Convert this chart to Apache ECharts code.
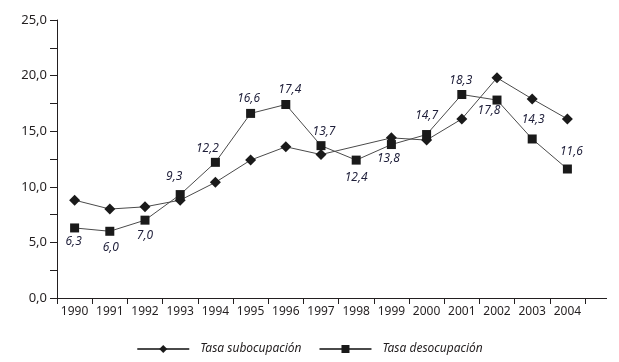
<!DOCTYPE html>
<html>
<head>
<meta charset="utf-8">
<script src="https://cdn.jsdelivr.net/npm/echarts@6/dist/echarts.min.js"></script>
<style>html,body{margin:0;padding:0;background:#fff;}#c{width:619px;height:362px;}</style>
</head>
<body>
<div id="c"></div>
<script>
const years = ['1990','1991','1992','1993','1994','1995','1996','1997','1998','1999','2000','2001','2002','2003','2004'];
const subocupacion = [8.8, 8.0, 8.2, 8.8, 10.4, 12.4, 13.6, 12.9, null, 14.4, 14.2, 16.1, 19.8, 17.9, 16.1];
const desocupacion = [6.3, 6.0, 7.0, 9.3, 12.2, 16.6, 17.4, 13.7, 12.4, 13.8, 14.7, 18.3, 17.8, 14.3, 11.6];
const yTicks = [0, 5, 10, 15, 20, 25];
const labelOffsets = [[-1,14],[1,16],[0,15],[-6,-18],[-8,-14],[-2,-15],[4,-15],[3,-14],[0,17],[-3,14],[0,-19],[-1,-14],[-8,11],[1,-19],[4,-17]];

const fmt = v => v.toFixed(1).replace('.', ',');
const font = '"Noto Sans", "Open Sans", sans-serif';
const textColor = '#231f20';

const chart = echarts.init(document.getElementById('c'), null, {renderer: 'canvas'});
chart.setOption({
  animation: false,
  grid: {left: 57, right: 34, top: 20, bottom: 64, containLabel: false},
  legend: {
    bottom: 2, left: 'center', itemWidth: 52, itemHeight: 10, itemGap: 17,
    textStyle: {fontFamily: font, fontStyle: 'italic', fontSize: 12, color: textColor, padding: [0, 0, 0, 6]},
    data: ['Tasa subocupación', 'Tasa desocupación']
  },
  xAxis: {
    type: 'category', data: years, boundaryGap: true,
    axisLine: {lineStyle: {color: '#231f20', width: 1}},
    axisTick: {show: true, length: 6, lineStyle: {color: '#231f20'}},
    axisLabel: {fontFamily: font, fontSize: 12, color: textColor, margin: 8, interval: 0}
  },
  yAxis: {
    type: 'value', min: 0, max: 25, interval: 2.5,
    splitLine: {show: false},
    axisLine: {show: true, lineStyle: {color: '#231f20', width: 1}},
    axisTick: {show: true, length: 7, lineStyle: {color: '#231f20'}},
    axisLabel: {
      fontFamily: font, fontSize: 13, color: textColor, margin: 10,
      formatter: v => yTicks.indexOf(v) >= 0 ? fmt(v) : ''
    }
  },
  series: [
    {
      name: 'Tasa subocupación', type: 'line', data: subocupacion, connectNulls: true,
      symbol: 'diamond', symbolSize: [11, 11],
      lineStyle: {color: '#4a4a4a', width: 1},
      itemStyle: {color: '#1a1a1a'},
      z: 3
    },
    {
      name: 'Tasa desocupación', type: 'line',
      data: desocupacion.map((v, i) => ({
        value: v,
        label: {show: true, position: 'inside', offset: labelOffsets[i]}
      })),
      symbol: 'rect', symbolSize: 9,
      lineStyle: {color: '#4a4a4a', width: 1},
      itemStyle: {color: '#1a1a1a'},
      label: {
        show: true, formatter: p => fmt(p.value),
        fontFamily: font, fontStyle: 'italic', fontSize: 12, color: '#1f1f3a'
      },
      z: 4
    }
  ]
});
const p0 = chart.convertToPixel({gridIndex: 0}, [years.length - 1, 0]);
const gridRight = 619 - 34;
chart.setOption({
  graphic: [{type: 'line', shape: {x1: gridRight, y1: Math.round(p0[1]) + 0.5, x2: 607, y2: Math.round(p0[1]) + 0.5}, style: {stroke: '#231f20', lineWidth: 1}}]
});
</script>
</body>
</html>
